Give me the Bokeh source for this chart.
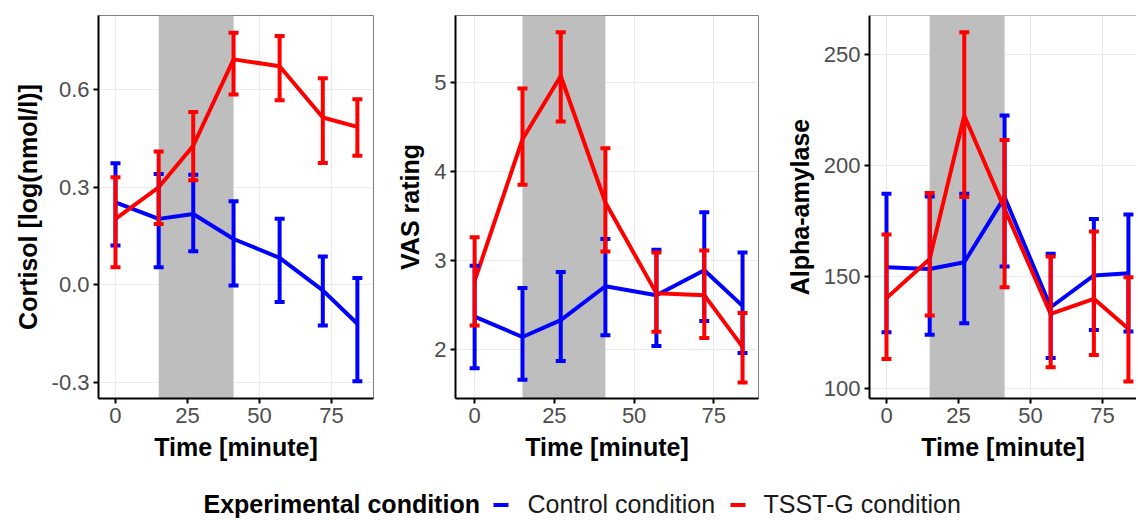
from bokeh.plotting import figure
from bokeh.layouts import column, row
from bokeh.models import Range1d, FixedTicker, PrintfTickFormatter, BoxAnnotation, Span
from bokeh.core.properties import value
from bokeh.embed import file_html
from bokeh.resources import INLINE

# ---------------- data ----------------
time_min = [0, 15, 27, 41, 57, 72, 84]
stress_window = [15, 41]
x_ticks = [0, 25, 50, 75]

conditions = ["Control condition", "TSST-G condition"]
legend_title = "Experimental condition"

cortisol_ticks = [-0.3, 0.0, 0.3, 0.6]
cortisol_ctrl = [0.254, 0.203, 0.218, 0.141, 0.083, -0.017, -0.120]
cortisol_ctrl_hi = [0.374, 0.341, 0.339, 0.257, 0.203, 0.087, 0.021]
cortisol_ctrl_lo = [0.121, 0.054, 0.103, -0.002, -0.053, -0.125, -0.297]
cortisol_tsst = [0.203, 0.300, 0.428, 0.694, 0.673, 0.515, 0.486]
cortisol_tsst_hi = [0.331, 0.410, 0.532, 0.776, 0.766, 0.636, 0.571]
cortisol_tsst_lo = [0.054, 0.187, 0.322, 0.586, 0.568, 0.375, 0.397]

vas_ticks = [2, 3, 4, 5]
vas_ctrl = [2.37, 2.14, 2.33, 2.71, 2.61, 2.89, 2.49]
vas_ctrl_hi = [2.94, 2.69, 2.87, 3.24, 3.12, 3.54, 3.09]
vas_ctrl_lo = [1.79, 1.66, 1.87, 2.16, 2.04, 2.32, 1.96]
vas_tsst = [2.77, 4.36, 5.07, 3.65, 2.63, 2.61, 2.03]
vas_tsst_hi = [3.26, 4.93, 5.56, 4.26, 3.09, 3.11, 2.41]
vas_tsst_lo = [2.27, 3.85, 4.56, 3.10, 2.20, 2.13, 1.63]

amylase_ticks = [100, 150, 200, 250]
amylase_ctrl = [154.4, 153.6, 156.6, 185.9, 136.4, 150.7, 151.7]
amylase_ctrl_hi = [187.4, 186.2, 187.4, 222.6, 160.4, 176.1, 178.1]
amylase_ctrl_lo = [125.2, 124.1, 129.2, 154.7, 113.6, 126.2, 125.5]
amylase_tsst = [140.5, 158.1, 222.6, 180.6, 133.4, 140.2, 126.7]
amylase_tsst_hi = [169.1, 187.7, 260.0, 211.6, 159.2, 170.4, 149.9]
amylase_tsst_lo = [113.2, 132.7, 185.9, 145.4, 109.4, 115.0, 103.0]

COLORS = ["#0000FF", "#FF0000"]
FONT = "Liberation Sans"
FIG_H = 466


def make_panel(width, left, right, xr, yr, yticks, yfmt, ylabel, series, top_border_only=False):
    p = figure(width=width, height=FIG_H, x_range=Range1d(*xr), y_range=Range1d(*yr),
               output_backend="svg", toolbar_location=None,
               min_border_left=left, min_border_right=right,
               min_border_top=15, min_border_bottom=68)
    p.background_fill_color = "white"
    p.border_fill_color = "white"
    if top_border_only:
        p.outline_line_color = None
        p.add_layout(Span(location=yr[1], dimension="width", line_color="#7F7F7F", line_width=1))
    else:
        p.outline_line_color = "#7F7F7F"
        p.outline_line_width = 1

    # stress phase shading
    p.add_layout(BoxAnnotation(left=stress_window[0], right=stress_window[1],
                               fill_color="#BEBEBE", fill_alpha=1.0, line_color=None,
                               level="underlay"))

    p.xaxis.ticker = FixedTicker(ticks=x_ticks)
    p.yaxis.ticker = FixedTicker(ticks=yticks)
    p.yaxis.formatter = PrintfTickFormatter(format=yfmt)
    p.xaxis.axis_label = "Time [minute]"
    p.yaxis.axis_label = ylabel
    for ax in (p.xaxis, p.yaxis):
        ax.axis_label_text_font = FONT
        ax.axis_label_text_font_style = "bold"
        ax.axis_label_text_font_size = "25px"
        ax.axis_label_text_color = "black"
        ax.axis_label_standoff = 7
        ax.major_label_text_font = FONT
        ax.major_label_text_font_size = "22px"
        ax.major_label_text_color = "#4D4D4D"
        ax.major_label_standoff = 4
        ax.axis_line_color = "black"
        ax.axis_line_width = 2
        ax.major_tick_line_color = "black"
        ax.major_tick_line_width = 2
        ax.major_tick_out = 5
        ax.major_tick_in = 0
        ax.minor_tick_line_color = None
    p.grid.grid_line_color = "#EBEBEB"
    p.grid.grid_line_width = 1
    p.grid.minor_grid_line_color = None

    # lines
    for (mean, lo, hi), col in zip(series, COLORS):
        p.line(time_min, mean, line_color=col, line_width=4, line_join="round")
    # error bars
    for (mean, lo, hi), col in zip(series, COLORS):
        p.segment(x0=time_min, y0=lo, x1=time_min, y1=hi, line_color=col, line_width=4)
        p.scatter(time_min, hi, marker="dash", size=10, line_color=col, line_width=4)
        p.scatter(time_min, lo, marker="dash", size=10, line_color=col, line_width=4)
    return p


p1 = make_panel(378, 98, 5, (-5.9, 89.6), (-0.35, 0.829), cortisol_ticks, "%.1f",
                "Cortisol [log(nmol/l)]",
                [(cortisol_ctrl, cortisol_ctrl_lo, cortisol_ctrl_hi),
                 (cortisol_tsst, cortisol_tsst_lo, cortisol_tsst_hi)])
p2 = make_panel(385, 77, 5, (-6.0, 89.0), (1.45, 5.749), vas_ticks, "%d",
                "VAS rating",
                [(vas_ctrl, vas_ctrl_lo, vas_ctrl_hi),
                 (vas_tsst, vas_tsst_lo, vas_tsst_hi)])
p3 = make_panel(373, 106, 0, (-5.9, 86.8), (95.4, 267.5), amylase_ticks, "%d",
                "Alpha-amylase",
                [(amylase_ctrl, amylase_ctrl_lo, amylase_ctrl_hi),
                 (amylase_tsst, amylase_tsst_lo, amylase_tsst_hi)],
                top_border_only=True)

# ---------------- legend strip ----------------
LW, LH = 1136, 54
leg = figure(width=LW, height=LH, x_range=Range1d(0, LW), y_range=Range1d(LH, 0),
             output_backend="svg", toolbar_location=None,
             x_axis_type=None, y_axis_type=None, min_border=0)
leg.outline_line_color = None
leg.grid.visible = False
leg.text(x=[203], y=[37], text=[legend_title], text_font=value(FONT),
         text_font_size="25px", text_font_style="bold", text_color="black",
         text_align="left", text_baseline="middle")
key_x = [493, 730]
label_x = [527, 763]
for kx, lx, col, lab in zip(key_x, label_x, COLORS, conditions):
    leg.segment(x0=[kx], y0=[38.5], x1=[kx + 15], y1=[38.5], line_color=col, line_width=4)
    leg.text(x=[lx], y=[37], text=[lab], text_font=value(FONT), text_font_size="25px",
             text_color="#1A1A1A", text_align="left", text_baseline="middle")

layout = column(row(p1, p2, p3), leg)
open("out.html", "w").write(file_html(layout, INLINE))
